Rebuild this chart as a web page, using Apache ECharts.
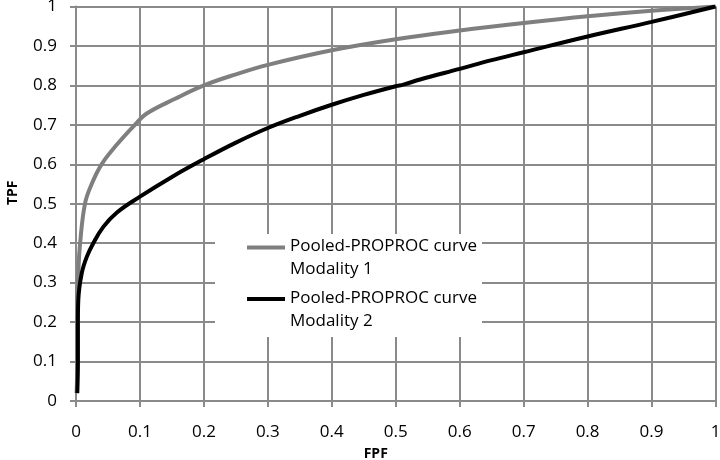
<!DOCTYPE html>
<html>
<head>
<meta charset="utf-8">
<script src="https://cdn.jsdelivr.net/npm/echarts@6/dist/echarts.min.js"></script>
<style>html,body{margin:0;padding:0;background:#fff}#c{width:720px;height:460px}</style>
</head>
<body>
<div id="c"></div>
<script>
var xTicks = [0, 0.1, 0.2, 0.3, 0.4, 0.5, 0.6, 0.7, 0.8, 0.9, 1];
var yTicks = [0, 0.1, 0.2, 0.3, 0.4, 0.5, 0.6, 0.7, 0.8, 0.9, 1];
var seriesNames = ['Pooled-PROPROC curve\nModality 1', 'Pooled-PROPROC curve\nModality 2'];

var modality1FPF = [0.001, 0.002, 0.002, 0.0036, 0.006, 0.014, 0.0245, 0.04, 0.064, 0.092, 0.11, 0.155, 0.2, 0.25, 0.3, 0.4, 0.5, 0.6, 0.7, 0.8, 0.9, 1];
var modality1TPF = [0.02, 0.1, 0.256, 0.324, 0.392, 0.50, 0.55, 0.60, 0.65, 0.70, 0.728, 0.766, 0.80, 0.828, 0.852, 0.889, 0.917, 0.939, 0.958, 0.975, 0.989, 1];

var modality2FPF = [0.002, 0.003, 0.003, 0.0036, 0.009, 0.017, 0.027, 0.043, 0.064, 0.1, 0.15, 0.2, 0.25, 0.3, 0.35, 0.4, 0.45, 0.5, 0.512, 0.538, 0.6, 0.65, 0.7, 0.8, 0.9, 1];
var modality2TPF = [0.02, 0.1, 0.2, 0.256, 0.324, 0.366, 0.40, 0.442, 0.478, 0.518, 0.568, 0.613, 0.655, 0.692, 0.723, 0.751, 0.776, 0.798, 0.802, 0.815, 0.842, 0.864, 0.884, 0.924, 0.961, 1];

function pairs(xs, ys) { return xs.map(function (x, i) { return [x, ys[i]]; }); }

var gridColor = '#8a8a8a';
var chart = echarts.init(document.getElementById('c'));
var axisCommon = {
  type: 'value', min: 0, max: 1, interval: 0.1,
  axisLine: { show: true, lineStyle: { color: gridColor, width: 2 } },
  axisTick: { show: true, inside: false, length: 6, lineStyle: { color: gridColor, width: 2 } },
  splitLine: { show: true, lineStyle: { color: gridColor, width: 2 } },
  nameLocation: 'middle',
  nameTextStyle: { fontFamily: 'Open Sans', fontWeight: 'bold', fontSize: 14, color: '#000' }
};
function fmt(v) { return String(Math.round(v * 10) / 10); }
chart.setOption({
  animation: false,
  grid: { left: 76, right: 4.5, top: 6.5, bottom: 59, containLabel: false, outerBoundsMode: 'none' },
  xAxis: Object.assign({}, axisCommon, {
    name: 'FPF', nameGap: 46,
    nameTextStyle: Object.assign({}, axisCommon.nameTextStyle, { padding: [0, 40, 0, 0] }),
    axisLabel: { margin: 23, fontFamily: 'Open Sans', fontSize: 17, color: '#000', formatter: fmt }
  }),
  yAxis: Object.assign({}, axisCommon, {
    name: 'TPF', nameGap: 56,
    nameTextStyle: Object.assign({}, axisCommon.nameTextStyle, { padding: [0, 0, 0, 22] }),
    axisLabel: { margin: 19, fontFamily: 'Open Sans', fontSize: 17, color: '#000', formatter: fmt }
  }),
  series: [
    { name: seriesNames[0], type: 'line', data: pairs(modality1FPF, modality1TPF), showSymbol: false,
      smooth: 0.4, lineStyle: { color: '#7f7f7f', width: 4 }, itemStyle: { color: '#7f7f7f' } },
    { name: seriesNames[1], type: 'line', data: pairs(modality2FPF, modality2TPF), showSymbol: false,
      smooth: 0.4, lineStyle: { color: '#000000', width: 4 }, itemStyle: { color: '#000000' } }
  ],
  graphic: [
    { type: 'rect', z: 100, shape: { x: 215, y: 234, width: 267, height: 103 }, style: { fill: '#ffffff' } },
    { type: 'line', z: 101, shape: { x1: 247, y1: 247.5, x2: 285, y2: 247.5 }, style: { stroke: '#7f7f7f', lineWidth: 4 } },
    { type: 'text', z: 101, left: 290, top: 235, style: { text: seriesNames[0], fontFamily: 'Open Sans', fontSize: 17, lineHeight: 23, fill: '#000' } },
    { type: 'line', z: 101, shape: { x1: 247, y1: 299, x2: 285, y2: 299 }, style: { stroke: '#000000', lineWidth: 4 } },
    { type: 'text', z: 101, left: 290, top: 287, style: { text: seriesNames[1], fontFamily: 'Open Sans', fontSize: 17, lineHeight: 23, fill: '#000' } }
  ]
});
</script>
</body>
</html>
